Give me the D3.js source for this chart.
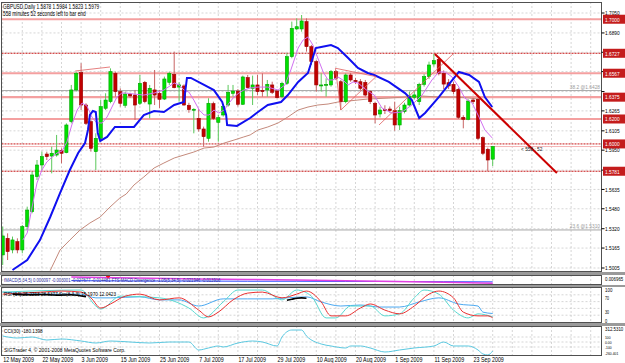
<!DOCTYPE html>
<html>
<head>
<meta charset="utf-8">
<script src="https://cdnjs.cloudflare.com/ajax/libs/d3/7.8.5/d3.min.js"></script>
<style>
  body { margin: 0; background: #fff; }
  svg { display: block; }
  text { font-family: "Liberation Sans", Arial, sans-serif; }
</style>
</head>
<body>
<div id="main"></div>
<script>
"use strict";

// daily candles, bar 0 = 12 May 2009, bar 100 = 29 Sep 2009
const opens = [1.5110,1.5243,1.5150,1.5216,1.5150,1.5337,1.5457,1.5738,1.5831,1.5919,
  1.5903,1.5911,1.5946,1.5930,1.6179,1.6433,1.6572,1.6312,1.6179,1.5938,
  1.6045,1.6286,1.6339,1.6566,1.6419,1.6310,1.6398,1.6392,1.6326,1.6494,
  1.6320,1.6433,1.6406,1.6360,1.6494,1.6558,1.6456,1.6465,1.6310,1.6270,
  1.6205,1.6120,1.6045,1.6323,1.6173,1.6232,1.6312,1.6406,1.6424,1.6318,
  1.6532,1.6446,1.6473,1.6430,1.6433,1.6473,1.6425,1.6379,1.6486,1.6700,
  1.6922,1.6922,1.6981,1.6780,1.6660,1.6467,1.6473,1.6473,1.6580,1.6499,
  1.6339,1.6553,1.6510,1.6499,1.6494,1.6419,1.6326,1.6240,1.6275,1.6280,
  1.6267,1.6152,1.6259,1.6312,1.6374,1.6339,1.6478,1.6540,1.6641,1.6678,
  1.6566,1.6491,1.6478,1.6438,1.6213,1.6197,1.6352,1.6358,1.6050,1.5957,1.5878];
const highs = [1.5337,1.5283,1.5257,1.5243,1.5350,1.5497,1.5778,1.5871,1.5938,1.5938,
  1.5978,1.6072,1.5965,1.6165,1.6473,1.6580,1.6647,1.6326,1.6192,1.6085,
  1.6352,1.6406,1.6606,1.6580,1.6446,1.6420,1.6410,1.6433,1.6553,1.6505,
  1.6473,1.6593,1.6433,1.6540,1.6580,1.6740,1.6494,1.6478,1.6330,1.6286,
  1.6280,1.6139,1.6366,1.6339,1.6232,1.6312,1.6473,1.6473,1.6440,1.6548,
  1.6553,1.6548,1.6553,1.6566,1.6513,1.6499,1.6433,1.6499,1.6727,1.6981,
  1.7007,1.7034,1.7007,1.6794,1.6673,1.6566,1.6526,1.6593,1.6593,1.6513,
  1.6566,1.6570,1.6530,1.6520,1.6513,1.6430,1.6339,1.6299,1.6310,1.6300,
  1.6339,1.6299,1.6330,1.6420,1.6420,1.6491,1.6560,1.6660,1.6721,1.6700,
  1.6590,1.6520,1.6500,1.6450,1.6230,1.6358,1.6370,1.6370,1.6060,1.5970,1.5984];
const lows = [1.5029,1.5069,1.5123,1.5123,1.5123,1.5310,1.5444,1.5711,1.5791,1.5871,
  1.5764,1.5898,1.5845,1.5925,1.6165,1.6419,1.6272,1.6152,1.5938,1.5791,
  1.6032,1.6272,1.6326,1.6379,1.6299,1.6290,1.6370,1.6192,1.6312,1.6326,
  1.6205,1.6312,1.6286,1.6352,1.6473,1.6446,1.6339,1.6307,1.6250,1.6085,
  1.6099,1.5978,1.6018,1.6192,1.6018,1.6219,1.6299,1.6379,1.6300,1.6312,
  1.6446,1.6312,1.6392,1.6379,1.6379,1.6400,1.6366,1.6366,1.6473,1.6687,
  1.6914,1.6900,1.6740,1.6633,1.6419,1.6419,1.6379,1.6459,1.6513,1.6272,
  1.6326,1.6499,1.6480,1.6430,1.6379,1.6320,1.6165,1.6212,1.6240,1.6250,
  1.6106,1.6112,1.6245,1.6300,1.6358,1.6312,1.6460,1.6520,1.6620,1.6550,
  1.6440,1.6440,1.6400,1.6200,1.6125,1.6190,1.6320,1.6030,1.5910,1.5781,1.5823];
const closes = [1.5262,1.5136,1.5230,1.5150,1.5337,1.5470,1.5751,1.5831,1.5898,1.5898,
  1.5925,1.5951,1.5925,1.6152,1.6433,1.6566,1.6312,1.6165,1.5965,1.6045,
  1.6299,1.6352,1.6580,1.6419,1.6326,1.6400,1.6385,1.6312,1.6486,1.6339,
  1.6446,1.6392,1.6358,1.6521,1.6566,1.6451,1.6473,1.6312,1.6275,1.6278,
  1.6120,1.6058,1.6326,1.6205,1.6211,1.6299,1.6414,1.6424,1.6318,1.6537,
  1.6451,1.6473,1.6419,1.6419,1.6478,1.6414,1.6371,1.6486,1.6700,1.6927,
  1.6940,1.6986,1.6780,1.6660,1.6473,1.6473,1.6478,1.6580,1.6526,1.6339,
  1.6553,1.6513,1.6499,1.6446,1.6392,1.6339,1.6232,1.6272,1.6270,1.6267,
  1.6152,1.6267,1.6312,1.6384,1.6393,1.6478,1.6540,1.6633,1.6668,1.6566,
  1.6480,1.6465,1.6419,1.6213,1.6197,1.6344,1.6339,1.6045,1.5925,1.5871,1.5979];

const dateIdx = [0, 8, 16, 24, 32, 40, 48, 56, 64, 72, 80, 88, 96];
const dateLabels = ["12 May 2009", "22 May 2009", "3 Jun 2009", "15 Jun 2009", "25 Jun 2009",
  "7 Jul 2009", "17 Jul 2009", "29 Jul 2009", "10 Aug 2009", "20 Aug 2009",
  "1 Sep 2009", "11 Sep 2009", "23 Sep 2009"];
const priceTicks = [1.7050, 1.6890, 1.6735, 1.6580, 1.6420, 1.6265, 1.6105, 1.5950,
  1.5790, 1.5635, 1.5480, 1.5320, 1.5165, 1.5005];

// horizontal levels drawn on the chart
const lightLevels = [1.7000, 1.6567, 1.6375, 1.6200];
const darkLevels = [1.6727, 1.6000, 1.5781];
const fibNames = ["38.2", "23.6"];
const fibPrices = [1.6428, 1.5310];

// trend line and hand drawn lines (bar index, price)
const trendIdx = [88.2, 113.1];
const trendVal = [1.6721, 1.5767];
const drawnLines = [
  [[14.8, 1.6585], [21.9, 1.6617]],
  [[67.9, 1.6607], [76.2, 1.6540]],
  [[69.0, 1.6272], [76.2, 1.6540]],
  [[67.9, 1.6607], [69.0, 1.6272]],
  [[76.8, 1.6152], [92.1, 1.6729]]
];

// moving averages
const blueIdx = [2, 5, 7.6, 9.7, 11.7, 13.7, 15.4, 16.8, 17.4, 17.8, 18.4, 19, 19.4, 19.9, 21.3, 22.9,
  25.2, 26.8, 28.8, 30.9, 32.9, 35, 37, 37.6, 38.4, 41.1, 43.1, 44.8, 45.6, 45.8, 47.8, 50.5,
  52.1, 54.1, 56.8, 58.2, 60.3, 62.3, 63.9, 65, 67, 68.4, 70.5, 72.5, 74.5, 75.8, 78.8, 82.1,
  83.5, 85, 86.2, 89, 91.3, 93.1, 95.2, 97.2, 98.4, 99.9];
const blueVal = [1.4989, 1.5069, 1.5229, 1.5414, 1.5606, 1.5791, 1.5927, 1.6007, 1.6112, 1.6232,
  1.6264, 1.6256, 1.6088, 1.6024, 1.6056, 1.6136, 1.6136, 1.6136, 1.6232, 1.6264, 1.6256, 1.6312,
  1.6336, 1.6529, 1.6529, 1.6473, 1.6432, 1.6336, 1.6232, 1.6152, 1.6144, 1.6208, 1.6256, 1.6312,
  1.6336, 1.6392, 1.6497, 1.6569, 1.6769, 1.6777, 1.6793, 1.6769, 1.6689, 1.6609, 1.6569, 1.6553,
  1.6497, 1.6408, 1.6352, 1.6208, 1.6248, 1.6376, 1.6489, 1.6577, 1.6553, 1.6497, 1.6376, 1.6296];

const violetIdx = [4.1, 5, 6, 7, 8, 9, 10.1, 11.1, 12.1, 13.1, 14.1, 15.2, 16.2, 17.2, 18.2, 19.2,
  20.3, 21.3, 22.3, 23.3, 24.3, 25.2, 26.8, 28.8, 30.9, 32.9, 35, 36, 37, 38, 39, 40.1, 41.1,
  42.1, 43.1, 44.1, 45.2, 46.2, 47.2, 48.2, 49.2, 50.5, 52.1, 54.1, 56.2, 57.6, 58.8, 60.3, 61.3,
  62.3, 63.3, 64.3, 65.4, 66.4, 67.4, 68.4, 69.4, 70.5, 71.5, 72.5, 73.5, 74.5, 75.8, 77.4, 79.4,
  81.5, 83.5, 85.6, 87.6, 89, 90.3, 91.7, 93.1, 94.3, 95.8, 97.2, 98.4, 99.9];
const violetVal = [1.5229, 1.5286, 1.5494, 1.5687, 1.5791, 1.5855, 1.5895, 1.5927, 1.5943, 1.6015,
  1.6152, 1.6272, 1.6328, 1.6304, 1.6216, 1.6168, 1.6168, 1.6216, 1.6296, 1.6376, 1.6408, 1.6408,
  1.6400, 1.6392, 1.6408, 1.6432, 1.6489, 1.6473, 1.6432, 1.6416, 1.6352, 1.6272, 1.6232, 1.6232,
  1.6272, 1.6248, 1.6272, 1.6328, 1.6376, 1.6408, 1.6432, 1.6448, 1.6456, 1.6456, 1.6432, 1.6473,
  1.6593, 1.6769, 1.6833, 1.6858, 1.6793, 1.6689, 1.6577, 1.6513, 1.6513, 1.6537, 1.6513, 1.6473,
  1.6497, 1.6489, 1.6456, 1.6424, 1.6392, 1.6288, 1.6248, 1.6256, 1.6312, 1.6392, 1.6513, 1.6577,
  1.6577, 1.6537, 1.6456, 1.6368, 1.6328, 1.6216, 1.6112, 1.6048];

const brownIdx = [9.7, 11.7, 13.7, 15.8, 17.8, 19.9, 21.9, 23.9, 25.2, 26.8, 28.8, 30.9, 32.9, 35,
  37, 39, 41.1, 43.1, 45.2, 47.2, 49.2, 50.5, 52.1, 54.1, 56.2, 58.2, 60.3, 62.3, 64.3, 66.4,
  68.4, 70.5, 72.5, 74.5, 78.8, 82.1, 85.6, 89, 92.3, 95.2, 97.2];
const brownVal = [1.4985, 1.5149, 1.5229, 1.5310, 1.5366, 1.5414, 1.5494, 1.5566, 1.5598, 1.5671,
  1.5735, 1.5807, 1.5847, 1.5887, 1.5911, 1.5935, 1.5967, 1.5975, 1.6007, 1.6031, 1.6056, 1.6072,
  1.6112, 1.6136, 1.6168, 1.6216, 1.6272, 1.6296, 1.6312, 1.6320, 1.6336, 1.6344, 1.6352, 1.6360,
  1.6368, 1.6376, 1.6384, 1.6376, 1.6376, 1.6368, 1.6360];

// MACD sub window
const macdIdx = [14, 20, 30, 40, 50, 60, 70, 80, 90, 100];
const macdMagenta = [0.002, -0.001, -0.004, -0.008, -0.010, -0.013, -0.017, -0.020, -0.024, -0.029];
const macdBlue = [-0.016, -0.017, -0.018, -0.018, -0.019, -0.019, -0.020, -0.020, -0.021, -0.022];

// RSI / Stochastic sub window
const stoSigIdx = [0, 4, 8, 12, 16, 18, 20, 22, 25, 28, 32, 36, 40, 42, 44, 47, 50, 53, 57, 60, 62,
  65, 67, 70, 73, 75, 78, 81, 84, 87, 89, 92, 94, 97, 99, 100];
const stoSigVal = [82, 85, 88, 91, 88, 71, 41, 53, 76, 82, 65, 71, 35, 15, 29, 65, 85, 88, 71, 82, 91,
  59, 18, 18, 41, 53, 35, 24, 47, 82, 91, 71, 29, 18, 18, 12];
const stoMainIdx = [0, 16, 19, 20, 24, 32, 38, 41, 45, 48, 53, 57, 60, 63, 66, 68, 71, 75, 78, 81,
  84, 86, 89, 92, 95, 97, 100];
const stoMainVal = [88, 94, 47, 38, 76, 71, 41, 12, 59, 94, 94, 65, 94, 76, 12, 12, 47, 47, 18, 24,
  71, 94, 82, 35, 12, 24, 15];
const rsiIdx = [0, 8, 16, 19, 22, 28, 32, 36, 40, 45, 50, 55, 58, 62, 65, 69, 73, 77, 81, 85, 89,
  93, 97, 98, 100];
const rsiVal = [88, 82, 82, 71, 71, 74, 65, 65, 47, 68, 68, 68, 71, 74, 59, 47, 50, 44, 44, 59, 71,
  53, 47, 29, 25];
const blackIdxA = [2, 5, 8, 11, 14, 17];
const blackValA = [82, 80, 81, 79, 80, 74];
const blackIdxB = [58, 59, 60, 61, 62];
const blackValB = [64, 67, 70, 71, 70];
const rsiGrid = [80, 60, 40, 20];
const rsiLabels = ["70", "30"];
const rsiLabelVal = [70, 30];

// CCI sub window
const cciIdx = [0, 3, 6, 9, 12, 16, 19, 22, 26, 30, 34, 38, 40, 42, 44, 45, 48, 51, 53, 56, 57, 59,
  61, 62, 65, 67, 70, 71, 73, 75, 78, 81, 84, 88, 90, 92, 95, 97, 98, 99, 100];
const cciVal = [120, 80, 100, 40, 60, 20, -20, 20, 0, -20, 0, 0, -160, -120, -80, -100, -20, 20, 0,
  -80, 100, 240, 240, 120, -40, -80, -120, -80, -80, -120, -200, -160, -120, -80, 0, -80, -80, -160,
  -240, -260, -180];
const cciLabels = ["312.5310", "100", "0.00", "-100", "-260.401"];
const cciLabelVal = [312.531, 100, 0, -100, -260.401];

const SX = 0.8; // screenshot text is squeezed horizontally

function txt(g, x, y, s, opt = {}) {
  return g.append("text")
    .attr("transform", `translate(${x},${y}) scale(${opt.sx || SX},1)`)
    .attr("font-size", opt.size || 6.5)
    .attr("fill", opt.fill || "#000")
    .attr("text-anchor", opt.anchor || "start")
    .text(s);
}

function main() {
  const W = 625, H = 363, PR = 601.5;
  const svg = d3.select("#main").append("svg").attr("width", W).attr("height", H);
  svg.append("rect").attr("width", W).attr("height", H).attr("fill", "#fff");

  const panes = [{ top: 2, bottom: 272 }, { top: 275, bottom: 285 }, { top: 287, bottom: 323 }, { top: 326, bottom: 356 }];

  const x = d3.scaleLinear().domain([0, 100]).range([2.7, 492.7]);
  const y = d3.scaleLinear().domain([1.5005, 1.7050]).range([268, 13]);
  const yMacd = d3.scaleLinear().domain([-0.035, 0.006965]).range([284.5, 276]);
  const yRsi = d3.scaleLinear().domain([0, 100]).range([322, 288]);
  const yCci = d3.scaleLinear().domain([-260.401, 312.531]).range([355, 326.4]);

  const defs = svg.append("defs");
  panes.forEach((p, k) => {
    defs.append("clipPath").attr("id", "clip" + k)
      .append("rect").attr("x", 1.5).attr("y", p.top + 0.5).attr("width", PR - 1.5).attr("height", p.bottom - p.top - 1);
  });

  // splitter bars between panes
  for (let k = 0; k < panes.length - 1; k++) {
    svg.append("rect").attr("x", 0).attr("y", panes[k].bottom).attr("width", W)
      .attr("height", panes[k + 1].top - panes[k].bottom).attr("fill", "#9a9a9a");
  }

  // grids
  const grid = svg.append("g").attr("stroke", "#c4c4c4").attr("stroke-width", 0.7).attr("stroke-dasharray", "2,2");
  const vIdx = d3.range(0, 125, 4).filter(i => x(i) < PR - 1);
  panes.forEach(p => {
    grid.selectAll(null).data(vIdx).join("line")
      .attr("x1", d => x(d)).attr("x2", d => x(d)).attr("y1", p.top).attr("y2", p.bottom);
  });
  grid.selectAll(null).data(priceTicks).join("line")
    .attr("x1", 1.5).attr("x2", PR).attr("y1", d => y(d)).attr("y2", d => y(d));
  grid.selectAll(null).data(rsiGrid).join("line")
    .attr("x1", 1.5).attr("x2", PR).attr("y1", d => yRsi(d)).attr("y2", d => yRsi(d));
  grid.selectAll(null).data([100, 0, -100]).join("line")
    .attr("x1", 1.5).attr("x2", PR).attr("y1", d => yCci(d)).attr("y2", d => yCci(d));

  // ---------- main pane ----------
  const gm = svg.append("g").attr("clip-path", "url(#clip0)");

  gm.selectAll(null).data(fibPrices).join("line")
    .attr("x1", 1.5).attr("x2", PR).attr("y1", d => y(d)).attr("y2", d => y(d))
    .attr("stroke", "#a8a8a8").attr("stroke-width", 1);
  gm.selectAll(null).data(lightLevels).join("line")
    .attr("x1", 1.5).attr("x2", PR).attr("y1", d => y(d)).attr("y2", d => y(d))
    .attr("stroke", "#f4a0a0").attr("stroke-width", 2.2);
  gm.selectAll(null).data(darkLevels).join("line")
    .attr("x1", 1.5).attr("x2", PR).attr("y1", d => y(d)).attr("y2", d => y(d))
    .attr("stroke", "#c81818").attr("stroke-width", 1).attr("stroke-dasharray", "2,1");
  // bid line
  gm.append("line").attr("x1", 1.5).attr("x2", PR).attr("y1", y(closes[100])).attr("y2", y(closes[100]))
    .attr("stroke", "#f4b4b4").attr("stroke-width", 1);

  const line = d3.line().x(d => x(d[0])).y(d => y(d[1]));
  gm.append("path").datum(brownIdx.map((d, i) => [d, brownVal[i]]))
    .attr("d", line).attr("fill", "none").attr("stroke", "#c48a7c").attr("stroke-width", 1);

  // candles
  const idx = d3.range(opens.length);
  gm.append("g").selectAll("line").data(idx).join("line")
    .attr("x1", i => x(i)).attr("x2", i => x(i))
    .attr("y1", i => y(highs[i])).attr("y2", i => y(lows[i]))
    .attr("stroke", i => closes[i] >= opens[i] ? "#5cc85c" : "#c86464").attr("stroke-width", 1);
  gm.append("g").selectAll("rect").data(idx).join("rect")
    .attr("x", i => x(i) - 1.6).attr("width", 3.2)
    .attr("y", i => y(Math.max(opens[i], closes[i])))
    .attr("height", i => Math.max(1, Math.abs(y(opens[i]) - y(closes[i]))))
    .attr("fill", i => closes[i] >= opens[i] ? "#00e000" : "#c00000")
    .attr("stroke", i => closes[i] >= opens[i] ? "#00a400" : "#9c0000").attr("stroke-width", 0.6);

  gm.append("path").datum(violetIdx.map((d, i) => [d, violetVal[i]]))
    .attr("d", line).attr("fill", "none").attr("stroke", "#d070f0").attr("stroke-width", 1);
  gm.append("path").datum(blueIdx.map((d, i) => [d, blueVal[i]]))
    .attr("d", line).attr("fill", "none").attr("stroke", "#1010f0").attr("stroke-width", 2);

  gm.selectAll(null).data(drawnLines).join("path")
    .attr("d", line).attr("fill", "none").attr("stroke", "#e06060").attr("stroke-width", 0.8);
  gm.append("path").datum(trendIdx.map((d, i) => [d, trendVal[i]]))
    .attr("d", line).attr("fill", "none").attr("stroke", "#cc0000").attr("stroke-width", 2);

  fibPrices.forEach((p, k) => txt(svg, 600, y(p) - 2, fibNames[k] + " @" + p.toFixed(4),
    { fill: "#9a9a9a", anchor: "end", size: 6 }));
  txt(svg, 521, y(closes[100]) + 4.5, "<  558 : 52", { size: 6, fill: "#202020" });

  const f4 = v => v.toFixed(4);
  txt(svg, 3, 8.7, `GBPUSD,Daily  ${f4(opens[100])} ${f4(highs[100])} ${f4(lows[100])} ${f4(closes[100])}`,
    { sx: 0.74 });
  txt(svg, 3, 16, "558 minutes 52 seconds left to bar end", { sx: 0.74 });

  // ---------- MACD pane ----------
  const g1 = svg.append("g").attr("clip-path", "url(#clip1)");
  const lm = d3.line().x(d => x(d[0])).y(d => yMacd(d[1]));
  g1.append("path").datum(macdIdx.map((d, i) => [d, macdBlue[i]]))
    .attr("d", lm).attr("fill", "none").attr("stroke", "#3050ff").attr("stroke-width", 1);
  g1.append("path").datum(macdIdx.map((d, i) => [d, macdMagenta[i]]))
    .attr("d", lm).attr("fill", "none").attr("stroke", "#e040e0").attr("stroke-width", 1.5);
  g1.append("path").attr("d", `M${x(21.5) - 2},${yMacd(0.004)}h4M${x(21.5)},${yMacd(0.004) - 2}v4`)
    .attr("stroke", "#ff0000").attr("stroke-width", 1);
  txt(g1, 4, 282, "fMACD(5,34,5) 0.000097 -0.003001 -0.027677 -0.014481  FTS MACD Divergence -1.05(5,34,5) -0.021946 -0.013916",
    { fill: "#2a2a9a", size: 6, sx: 0.7 });

  // ---------- RSI pane ----------
  const g2 = svg.append("g").attr("clip-path", "url(#clip2)");
  const lr = d3.line().x(d => x(d[0])).y(d => yRsi(d[1])).curve(d3.curveMonotoneX);
  const pair = (a, b) => a.map((d, i) => [d, b[i]]);
  g2.append("path").datum(pair(rsiIdx, rsiVal)).attr("d", lr).attr("fill", "none")
    .attr("stroke", "#4aa8f0").attr("stroke-width", 1);
  g2.append("path").datum(pair(stoMainIdx, stoMainVal)).attr("d", lr).attr("fill", "none")
    .attr("stroke", "#58d8d0").attr("stroke-width", 1);
  g2.append("path").datum(pair(stoSigIdx, stoSigVal)).attr("d", lr).attr("fill", "none")
    .attr("stroke", "#e83030").attr("stroke-width", 1);
  [[blackIdxA, blackValA], [blackIdxB, blackValB]].forEach(([a, b]) => {
    g2.append("path").datum(pair(a, b)).attr("d", lr).attr("fill", "none")
      .attr("stroke", "#000").attr("stroke-width", 1.6);
  });
  txt(g2, 4, 296, "RSI (14) 25.2213 28.5377  Sto(8,3,3) 15.1970 12.0423", { size: 6, sx: 0.78 });

  // ---------- CCI pane ----------
  const g3 = svg.append("g").attr("clip-path", "url(#clip3)");
  const lc = d3.line().x(d => x(d[0])).y(d => yCci(d[1])).curve(d3.curveMonotoneX);
  g3.append("path").datum(pair(cciIdx, cciVal)).attr("d", lc).attr("fill", "none")
    .attr("stroke", "#5ac8e0").attr("stroke-width", 1);
  txt(g3, 4, 333, "CCI(30) -180.1398", { size: 6, sx: 0.78 });
  txt(g3, 4, 352, "SIGTrader 4, © 2001-2008 MetaQuotes Software Corp.", { size: 6.2, sx: 0.8 });

  // pane frames
  panes.forEach(p => {
    svg.append("rect").attr("x", 1.5).attr("y", p.top + 0.5).attr("width", PR - 1.5).attr("height", p.bottom - p.top - 1)
      .attr("fill", "none").attr("stroke", "#505050").attr("stroke-width", 1);
  });

  // ---------- right scales ----------
  const ax = svg.append("g");
  const boxed = lightLevels.concat(darkLevels);
  ax.selectAll(null).data(priceTicks).join("line")
    .attr("x1", PR).attr("x2", PR + 3).attr("y1", d => y(d)).attr("y2", d => y(d)).attr("stroke", "#000");
  // tick labels hidden behind a level box are not drawn
  priceTicks.filter(p => boxed.every(b => Math.abs(y(b) - y(p)) > 6))
    .forEach(p => txt(ax, 605, y(p) + 2.3, p.toFixed(4), { size: 6 }));
  boxed.forEach(p => {
    ax.append("rect").attr("x", 603).attr("y", y(p) - 4.5).attr("width", 22).attr("height", 9).attr("fill", "#c41c1c");
    txt(ax, 605, y(p) + 2.3, p.toFixed(4), { size: 6, fill: "#fff" });
  });
  txt(ax, 605, 281, "0.006965", { size: 5.5 });
  txt(ax, 605, 292, "100", { size: 5.5 });
  rsiLabelVal.forEach((v, k) => txt(ax, 605, yRsi(v) + 2, rsiLabels[k], { size: 4.5 }));
  txt(ax, 605, 322.5, "0", { size: 5 });
  // CCI scale labels sit only 5px apart, so they are set very small
  cciLabelVal.forEach((v, k) => txt(ax, 605, Math.min(354.5, Math.max(331, yCci(v) + 1.6)), cciLabels[k],
    { size: (k === 0 ? 5.5 : 4.2) }));

  // date axis
  dateIdx.forEach((d, k) => txt(svg, x(d) + 0.5, 362, dateLabels[k], { size: 6.5, sx: 0.82 }));
}

main();
</script>
</body>
</html>
